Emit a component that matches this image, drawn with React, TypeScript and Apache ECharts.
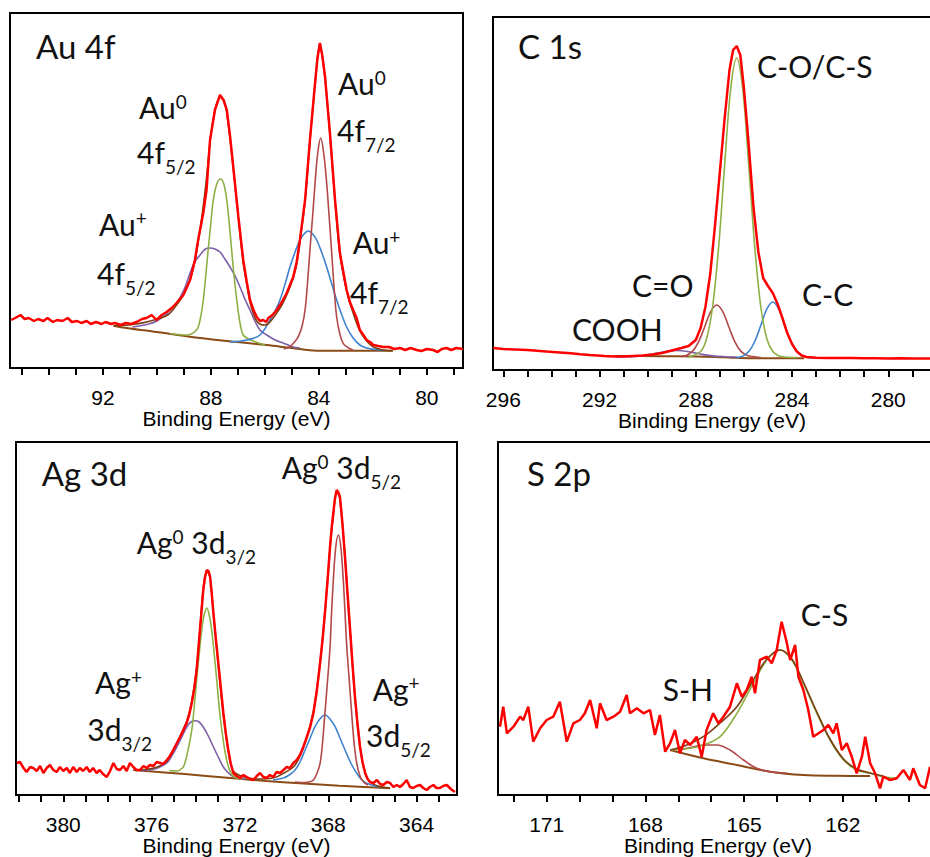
import React, { useEffect, useRef } from 'react';
import * as echarts from 'echarts';

type P = [number, number];

// ---------- Au 4f ----------
const au4fTicks = [79, 80, 81, 82, 83, 84, 85, 86, 87, 88, 89, 90, 91, 92, 93, 94, 95];
const au4fTickLabels = [80, 84, 88, 92];
const au4fData: P[] = [[95.40,48],[95.25,50],[95.05,53],[94.90,49],[94.75,50],[94.55,47],[94.40,49],[94.20,47],[94.05,50],[93.85,46],[93.70,48],[93.50,47],[93.30,50],[93.15,46],[92.95,47],[92.80,45],[92.60,47],[92.45,44],[92.25,46],[92.05,44],[91.90,46],[91.70,44],[91.55,45],[91.35,43],[91.15,45],[90.95,44],[90.75,46],[90.55,49],[90.38,50],[90.19,53],[90.01,48],[89.82,53],[89.64,56],[89.45,60],[89.27,65],[89.02,73],[88.77,88],[88.59,108],[88.47,128],[88.28,155],[88.16,178],[88.03,228],[87.85,258],[87.66,273],[87.53,268],[87.41,258],[87.29,232],[87.17,201],[86.98,151],[86.80,108],[86.67,86],[86.55,68],[86.42,58],[86.30,51],[86.18,47],[86.06,48],[85.95,46],[85.87,50],[85.72,53],[85.56,58],[85.37,66],[85.19,75],[84.95,91],[84.82,106],[84.70,128],[84.51,168],[84.33,228],[84.14,285],[84.05,310],[83.96,325],[83.87,312],[83.77,291],[83.59,235],[83.40,168],[83.22,115],[82.97,78],[82.85,66],[82.73,58],[82.60,50],[82.48,38],[82.35,33],[82.23,28],[82.10,26],[81.98,23],[81.80,22],[81.61,21],[81.40,21],[81.20,19],[80.99,20],[80.80,18],[80.60,20],[80.38,18],[80.20,17],[80.00,19],[79.77,18],[79.60,16],[79.45,19],[79.27,20],[79.10,18],[78.90,20],[78.66,19]];
const au4fBackground: P[] = [[91.61,42.3],[91.00,39.5],[90.26,37],[89.50,34],[88.40,30],[87.20,26.5],[85.93,23],[85.00,20],[84.08,17.3],[83.00,17.3],[81.26,17.3]];
const au4fAuPlus52: P[] = [[90.90,41],[90.30,44],[90.00,47],[89.64,54],[89.27,65],[89.00,78],[88.77,95],[88.60,106],[88.40,113],[88.20,119],[88.03,120],[87.85,119],[87.66,116],[87.48,109],[87.29,101],[87.10,92],[86.92,81],[86.74,69],[86.55,58],[86.37,47],[86.18,38],[85.93,33],[85.62,28],[85.32,25],[84.95,21],[84.70,20]];
const au4fAu0_52: P[] = [[89.52,34.5],[88.90,33],[88.53,38],[88.40,48],[88.28,68],[88.18,95],[88.10,118],[88.00,145],[87.91,168],[87.78,184],[87.64,189],[87.52,184],[87.41,168],[87.32,145],[87.23,118],[87.14,92],[87.04,68],[86.92,45],[86.80,33],[86.60,29],[86.43,27],[86.00,23]];
const au4fAuPlus72: P[] = [[87.29,26],[86.67,28],[86.18,33],[85.81,48],[85.62,57],[85.44,68],[85.25,84],[85.07,101],[84.88,116],[84.70,128],[84.55,134],[84.39,137],[84.23,134],[84.08,128],[83.90,116],[83.71,101],[83.52,84],[83.34,68],[83.15,53],[82.97,41],[82.73,30],[82.48,23],[82.23,20],[81.98,18.7],[81.60,17.5]];
const au4fAu0_72: P[] = [[85.30,19],[85.07,21.3],[84.90,26],[84.76,31.3],[84.62,42],[84.51,58],[84.42,85],[84.33,118],[84.23,152],[84.14,185],[84.04,215],[83.93,230],[83.82,215],[83.71,185],[83.62,152],[83.53,118],[83.44,82],[83.34,51],[83.22,34],[83.10,24.7],[82.90,20],[82.73,18]];
const au4fEnvelope: P[] = [[91.6,42],[90.9,43.5],[90.3,46.5],[89.6,53],[89.27,63],[89.0,74],[88.77,88],[88.6,106],[88.47,126],[88.3,158],[88.16,190],[88.03,226],[87.85,257],[87.66,271],[87.5,266],[87.41,256],[87.17,200],[86.98,150],[86.8,105],[86.67,84],[86.55,66],[86.42,54],[86.3,47],[86.15,43.5],[86.0,43],[85.87,44.5],[85.72,49],[85.56,55],[85.37,63],[85.19,73],[84.95,90],[84.82,104],[84.7,127],[84.51,167],[84.33,227],[84.14,284],[84.04,312],[83.96,324],[83.87,311],[83.77,290],[83.59,234],[83.4,167],[83.22,114],[82.97,77],[82.73,55],[82.48,37],[82.23,27],[81.98,21],[81.6,18],[81.26,17.3]];

// ---------- C 1s ----------
const c1sTicks = [279, 280, 281, 282, 283, 284, 285, 286, 287, 288, 289, 290, 291, 292, 293, 294, 295, 296];
const c1sTickLabels = [280, 284, 288, 292, 296];
const c1sData: P[] = [[296.42,22],[296.0,21],[295.5,20.5],[295.0,20],[294.6,19.3],[294.2,18.5],[293.8,17.8],[293.2,16.7],[292.8,15.8],[292.4,15],[291.8,14],[291.4,13.6],[291.0,13.5],[290.6,14],[290.2,14.5],[289.8,15.5],[289.4,17],[289.0,19.5],[288.6,22],[288.3,24],[288.0,30],[287.8,42],[287.6,63],[287.4,96],[287.2,145],[287.0,198],[286.8,252],[286.6,300],[286.45,320],[286.3,324],[286.15,315],[286.0,282],[285.8,225],[285.6,162],[285.4,118],[285.2,92],[285.0,84],[284.8,77],[284.6,66],[284.4,52],[284.2,37],[284.0,26],[283.8,18.5],[283.6,14.5],[283.4,13],[283.0,12.3],[282.5,12],[282.0,12],[281.5,12],[281.0,11.7],[280.5,11.8],[280.0,11.5],[279.5,11.8],[279.0,11.4],[278.5,11.6],[278.14,11.5]];
const c1sCOCS: P[] = [[288.30,13],[287.80,18.5],[287.55,31.5],[287.30,63.5],[287.05,123],[286.80,205],[286.55,281],[286.30,312],[286.05,281],[285.80,205],[285.55,123],[285.30,63.5],[285.05,31.5],[284.80,18.5],[284.55,14.3],[284.30,13],[283.80,12.5]];
const c1sCdO: P[] = [[288.60,13.3],[288.38,14.8],[288.13,18.9],[287.88,28.4],[287.63,43.2],[287.38,58.4],[287.13,65],[286.88,58.4],[286.63,43.2],[286.38,28.4],[286.13,18.9],[285.88,14.8],[285.63,13.4],[285.30,12.5]];
const c1sCC: P[] = [[286.30,12.4],[286.05,13.9],[285.80,18.4],[285.55,28.5],[285.30,44.5],[285.05,60.9],[284.80,68],[284.55,60.9],[284.30,44.5],[284.05,28.5],[283.80,18.4],[283.55,13.9],[283.30,12.4],[283.00,12]];
const c1sCOOH: P[] = [[291.30,13],[290.80,13.3],[290.30,14.1],[289.80,16],[289.30,18.3],[288.79,19.5],[288.30,18.3],[287.80,16],[287.30,14.1],[286.80,13.3],[286.30,13]];
const c1sBackground: P[] = [[291.40,14],[289.50,13.8],[288.00,13.4],[287.20,13],[286.50,12.3],[285.80,11.8],[284.50,11.7],[283.50,11.7]];

// ---------- Ag 3d ----------
const ag3dTicks = [363, 364, 365, 366, 367, 368, 369, 370, 371, 372, 373, 374, 375, 376, 377, 378, 379, 380, 381, 382];
const ag3dTickLabels = [364, 368, 372, 376, 380];
const ag3dData: P[] = [[382.11,32],[381.96,33],[381.80,27],[381.66,23],[381.50,28],[381.36,27],[381.20,24],[381.05,29],[380.90,22],[380.75,27],[380.60,30],[380.45,25],[380.30,23],[380.15,28],[380.00,24],[379.84,27],[379.70,22],[379.55,28],[379.39,23],[379.25,27],[379.10,24],[378.94,28],[378.80,23],[378.65,27],[378.49,22],[378.35,25],[378.20,21],[378.03,18],[377.88,24],[377.73,32],[377.58,26],[377.43,25],[377.28,29],[377.13,24],[376.98,32],[376.83,28],[376.68,25],[376.52,25],[376.37,29],[376.22,27],[376.07,30],[375.92,29],[375.77,33],[375.62,32],[375.47,31],[375.31,35],[375.20,38],[375.09,42],[374.90,50],[374.71,58],[374.56,65],[374.41,72],[374.30,80],[374.18,92],[374.07,106],[373.96,125],[373.81,165],[373.66,205],[373.58,218],[373.50,225],[373.42,224],[373.35,218],[373.28,202],[373.20,182],[373.09,156],[372.98,132],[372.86,106],[372.75,82],[372.64,62],[372.53,45],[372.41,31],[372.30,22],[372.15,19],[371.99,17],[371.84,20],[371.69,18],[371.54,16],[371.39,15],[371.24,19],[371.09,22],[370.94,18],[370.79,17],[370.64,20],[370.49,18],[370.34,23],[370.18,22],[370.03,25],[369.88,28],[369.73,27],[369.58,32],[369.43,35],[369.28,40],[369.13,48],[368.97,58],[368.82,68],[368.67,82],[368.52,104],[368.37,132],[368.26,155],[368.15,182],[368.03,215],[367.92,248],[367.85,266],[367.77,282],[367.70,296],[367.62,305],[367.55,303],[367.47,298],[367.36,272],[367.24,238],[367.13,202],[367.01,165],[366.90,130],[366.79,98],[366.67,70],[366.56,48],[366.45,33],[366.33,22],[366.22,16],[366.11,13],[365.95,12],[365.80,15],[365.65,11],[365.51,10],[365.35,13],[365.20,12],[365.05,8],[364.90,10],[364.75,8],[364.60,11],[364.45,15],[364.30,8],[364.15,7],[364.00,9],[363.84,10],[363.70,7],[363.54,5],[363.40,8],[363.24,10],[363.10,7],[362.94,7],[362.80,9],[362.63,10],[362.45,6],[362.26,3]];
const ag3dAg0_32: P[] = [[375.20,24.5],[374.86,24],[374.60,27],[374.49,32],[374.35,45],[374.18,65],[374.07,88],[373.96,115],[373.85,140],[373.73,165],[373.62,180],[373.50,187],[373.39,180],[373.28,165],[373.16,140],[373.05,115],[372.94,88],[372.82,65],[372.68,44],[372.52,28],[372.35,20],[372.15,17],[371.90,16]];
const ag3dAgPlus32: P[] = [[376.52,24.3],[375.92,25.7],[375.62,28],[375.31,32],[375.09,39],[374.86,48],[374.63,58],[374.41,68],[374.22,73],[374.03,74.3],[373.85,73],[373.66,68],[373.43,59],[373.20,48],[372.98,38],[372.75,28],[372.52,22],[372.30,18.3],[371.77,16]];
const ag3dAg0_52: P[] = [[369.50,13],[369.05,12.5],[368.80,13.5],[368.67,15],[368.52,21],[368.37,31.7],[368.26,52],[368.15,82],[368.03,115],[367.92,148],[367.85,182],[367.77,215],[367.66,248],[367.54,260],[367.43,248],[367.32,215],[367.24,182],[367.16,148],[367.05,115],[366.94,82],[366.83,52],[366.71,31.7],[366.56,19],[366.41,13.3],[366.20,10]];
const ag3dAgPlus52: P[] = [[370.50,15],[370.03,17],[369.77,20],[369.50,25],[369.28,33],[369.05,45],[368.82,57],[368.60,68.3],[368.38,76],[368.15,80],[367.92,76],[367.69,68.3],[367.47,57],[367.24,45],[366.98,32],[366.71,21.7],[366.48,15],[366.26,11.7],[365.75,8]];
const ag3dBackground: P[] = [[376.83,25],[374.50,21],[372.30,16.7],[370.80,14],[369.28,11.7],[367.50,9.2],[365.20,6.7]];
const ag3dEnvelope: P[] = [[376.8,25],[375.9,27],[375.3,34],[374.86,52],[374.41,74],[374.18,94],[373.96,127],[373.81,166],[373.66,206],[373.5,224],[373.35,217],[373.2,181],[372.98,131],[372.75,80],[372.53,45],[372.3,24],[371.8,18],[371.2,16],[370.5,17],[370.0,22],[369.5,30],[369.05,52],[368.67,84],[368.37,132],[368.15,182],[367.92,247],[367.77,280],[367.62,303],[367.47,296],[367.24,236],[367.01,164],[366.79,98],[366.56,48],[366.33,22],[366.1,13],[365.75,9],[365.2,7]];

// ---------- S 2p ----------
const s2pTicks = [160, 161, 162, 163, 164, 165, 166, 167, 168, 169, 170, 171, 172];
const s2pTickLabels = [162, 165, 168, 171];
const s2pData: P[] = [[172.42,68.3],[172.32,88.3],[172.21,61.7],[172.01,68.3],[171.81,78.3],[171.71,75],[171.56,88.3],[171.41,53.3],[171.20,66.7],[171.00,75],[170.80,78.3],[170.60,93.3],[170.39,53.3],[170.19,71.7],[169.99,75],[169.84,81.7],[169.68,95],[169.48,66.7],[169.38,91.7],[169.18,75],[168.97,78.3],[168.77,83.3],[168.57,100],[168.47,81.7],[168.26,86.7],[168.06,81.7],[167.86,85],[167.71,60],[167.56,80],[167.40,43.3],[167.25,51.7],[167.10,65],[166.95,41.7],[166.80,55],[166.64,50],[166.44,58.3],[166.29,38.3],[166.14,65],[165.94,81.7],[165.78,71.7],[165.63,78.3],[165.43,88.3],[165.22,111.7],[165.07,98.3],[164.92,105],[164.77,118.3],[164.67,101.7],[164.52,135],[164.31,138.3],[164.16,131.7],[164.01,145],[163.86,173.3],[163.70,151.7],[163.60,135],[163.45,150],[163.35,118.3],[163.20,105],[163.05,85],[162.90,58.3],[162.74,61.7],[162.59,65],[162.44,70],[162.29,61.7],[162.19,71.7],[162.03,45],[161.88,51.7],[161.73,38.3],[161.58,21.7],[161.42,38.3],[161.32,58.3],[161.17,31.7],[161.02,21.7],[160.87,6.7],[160.77,18.3],[160.56,15],[160.36,16.7],[160.16,25],[159.96,15],[159.86,26.7],[159.66,10],[159.50,6.7],[159.35,28.3]];
const s2pCS: P[] = [[167.25,45],[166.64,46.7],[166.24,50],[165.73,58.3],[165.22,81.7],[164.72,111.7],[164.31,135],[163.91,145],[163.55,135],[163.20,111.7],[162.79,81.7],[162.39,55],[161.98,35],[161.58,25],[161.17,21.7],[160.77,18.3],[160.36,16.7]];
const s2pSH: P[] = [[167.25,45],[166.74,46.7],[166.24,50],[165.83,50],[165.43,45],[165.02,35],[164.62,26.7],[164.21,23.3],[163.70,21.7]];
const s2pBackground: P[] = [[167.25,45],[166.24,36.7],[165.22,30],[164.21,23.3],[163.20,20],[162.20,19.2],[161.17,19]];
const s2pEnvelope: P[] = [[167.25,45],[166.74,50],[166.24,58.3],[165.73,72],[165.22,88.3],[164.81,110],[164.41,131.7],[164.15,141],[163.91,145],[163.55,136],[163.20,113],[162.79,83],[162.39,56],[161.98,36],[161.58,26],[161.17,22],[160.77,19]];

const AXIS_TITLE = 'Binding Energy (eV)';

// ---------- styles ----------
const RED = '#ff0000';
const GREEN = '#8db045';
const PURPLE = '#7d5fa8';
const BLUE = '#3f82cf';
const DARKRED = '#b24848';
const BROWN = '#8a4b16';
const ENVELOPE = '#7a3e12';
const TICK_FONT = '"Liberation Sans", Arial, sans-serif';
const LABEL_FONT = 'Lato, "Open Sans", sans-serif';

type Curve = { data: P[]; color: string; width: number; smooth: boolean };

const panels = [
  {
    grid: { left: 10, top: 13, width: 453, height: 355 }, titleX: 236.5,
    xMin: 78.66, xMax: 95.44, yMax: 355, ticks: au4fTicks, tickLabels: au4fTickLabels,
    curves: [
      { data: au4fBackground, color: BROWN, width: 2, smooth: true },
      { data: au4fAuPlus52, color: PURPLE, width: 1.6, smooth: true },
      { data: au4fAu0_52, color: GREEN, width: 1.6, smooth: true },
      { data: au4fAuPlus72, color: BLUE, width: 1.6, smooth: true },
      { data: au4fAu0_72, color: DARKRED, width: 1.6, smooth: true },
      { data: au4fEnvelope, color: ENVELOPE, width: 1.6, smooth: true },
      { data: au4fData, color: RED, width: 2.5, smooth: false },
    ] as Curve[],
  },
  {
    grid: { left: 493, top: 17, width: 440, height: 353 }, titleX: 712,
    xMin: 278.14, xMax: 296.43, yMax: 353, ticks: c1sTicks, tickLabels: c1sTickLabels,
    curves: [
      { data: c1sBackground, color: BROWN, width: 2, smooth: true },
      { data: c1sCOOH, color: PURPLE, width: 1.6, smooth: true },
      { data: c1sCdO, color: DARKRED, width: 1.6, smooth: true },
      { data: c1sCC, color: BLUE, width: 1.6, smooth: true },
      { data: c1sCOCS, color: GREEN, width: 1.6, smooth: true },
      { data: c1sData, color: RED, width: 2.5, smooth: false },
    ] as Curve[],
  },
  {
    grid: { left: 16, top: 442, width: 441, height: 353 }, titleX: 236.5,
    xMin: 362.17, xMax: 382.14, yMax: 353, ticks: ag3dTicks, tickLabels: ag3dTickLabels,
    curves: [
      { data: ag3dBackground, color: BROWN, width: 2, smooth: true },
      { data: ag3dAgPlus32, color: PURPLE, width: 1.6, smooth: true },
      { data: ag3dAg0_32, color: GREEN, width: 1.6, smooth: true },
      { data: ag3dAgPlus52, color: BLUE, width: 1.6, smooth: true },
      { data: ag3dAg0_52, color: DARKRED, width: 1.6, smooth: true },
      { data: ag3dEnvelope, color: ENVELOPE, width: 1.6, smooth: true },
      { data: ag3dData, color: RED, width: 2.5, smooth: false },
    ] as Curve[],
  },
  {
    grid: { left: 498, top: 442, width: 435, height: 353 }, titleX: 718,
    xMin: 159.26, xMax: 172.48, yMax: 353, ticks: s2pTicks, tickLabels: s2pTickLabels,
    curves: [
      { data: s2pBackground, color: BROWN, width: 2, smooth: true },
      { data: s2pSH, color: DARKRED, width: 1.6, smooth: true },
      { data: s2pCS, color: GREEN, width: 1.6, smooth: true },
      { data: s2pEnvelope, color: ENVELOPE, width: 1.6, smooth: true },
      { data: s2pData, color: RED, width: 2.5, smooth: false },
    ] as Curve[],
  },
];

const INK = '#111';
const rich = {
  t: { fontSize: 33, fontFamily: LABEL_FONT, lineHeight: 40, fill: INK },
  m: { fontSize: 30, fontFamily: LABEL_FONT, lineHeight: 40, fill: INK },
  sup: { fontSize: 19, fontFamily: LABEL_FONT, lineHeight: 40, fill: INK, padding: [0, 0, 12, 0] },
  sub: { fontSize: 19, fontFamily: LABEL_FONT, lineHeight: 40, fill: INK, padding: [29, 0, 0, 0] },
};

// annotation: [left x, baseline y, rich text, is panel title]
const annotations: [number, number, string, boolean][] = [
  [36, 56.7, '{t|Au 4f}', true],
  [139, 116.7, '{m|Au}{sup|0}', false],
  [137, 161.7, '{m|4f}{sub|5/2}', false],
  [338, 93, '{m|Au}{sup|0}', false],
  [337, 140, '{m|4f}{sub|7/2}', false],
  [99, 233.3, '{m|Au}{sup|+}', false],
  [97, 283, '{m|4f}{sub|5/2}', false],
  [352.7, 251.7, '{m|Au}{sup|+}', false],
  [350, 301.7, '{m|4f}{sub|7/2}', false],
  [518, 56.7, '{t|C 1s}', true],
  [757, 76, '{m|C-O/C-S}', false],
  [632, 295, '{m|C=O}', false],
  [572, 338.3, '{m|COOH}', false],
  [802, 304, '{m|C-C}', false],
  [41.7, 483.3, '{t|Ag 3d}', true],
  [281.7, 476.7, '{m|Ag}{sup|0}{m| 3d}{sub|5/2}', false],
  [136.7, 551.7, '{m|Ag}{sup|0}{m| 3d}{sub|3/2}', false],
  [95, 691.7, '{m|Ag}{sup|+}', false],
  [87.3, 738.3, '{m|3d}{sub|3/2}', false],
  [372.7, 698.3, '{m|Ag}{sup|+}', false],
  [366, 745, '{m|3d}{sub|5/2}', false],
  [527, 483.3, '{t|S 2p}', true],
  [800.7, 623.3, '{m|C-S}', false],
  [662.7, 698.3, '{m|S-H}', false],
];

function buildOption() {
  const grid = panels.map((p) => ({ ...p.grid, show: true, borderColor: '#000', borderWidth: 2, containLabel: false, outerBoundsMode: 'none' }));
  const xAxis = panels.map((p, i) => ({
    type: 'value', gridIndex: i, inverse: true, min: p.xMin, max: p.xMax, position: 'bottom',
    axisLine: { show: true, onZero: false, lineStyle: { color: '#000', width: 2 } },
    axisTick: { show: true, length: 7, lineStyle: { color: '#000', width: 2 }, customValues: p.ticks },
    axisLabel: { show: false },
    splitLine: { show: false },
  }));
  const yAxis = panels.map((p, i) => ({ type: 'value', gridIndex: i, min: 0, max: p.yMax, show: false, splitLine: { show: false } }));
  const series: any[] = [];
  panels.forEach((p, i) => {
    p.curves.forEach((c) => {
      series.push({ type: 'line', xAxisIndex: i, yAxisIndex: i, data: c.data, showSymbol: false, symbol: 'none', smooth: c.smooth ? 0.35 : false,
        lineStyle: { color: c.color, width: c.width }, itemStyle: { color: c.color }, silent: true, clip: true });
    });
  });
  return { animation: false, grid, xAxis, yAxis, series };
}

function buildGraphics(chart: echarts.ECharts) {
  const elements: any[] = annotations.map(([x, b, text, title]) => ({
    type: 'text', x, y: b - (title ? 10.6 : 9.7), z: 100, silent: true,
    style: { text, rich, align: 'left', verticalAlign: 'middle', fill: INK, fontFamily: LABEL_FONT, fontSize: title ? 33 : 30 },
  }));
  panels.forEach((p, i) => {
    const bottom = p.grid.top + p.grid.height;
    // numbered tick labels, placed through the axis scale
    p.tickLabels.forEach((v) => {
      const px = chart.convertToPixel({ xAxisIndex: i } as any, v) as unknown as number;
      elements.push({
        type: 'text', x: px, y: bottom + 19, z: 100, silent: true,
        style: { text: String(v), align: 'center', verticalAlign: 'top', fill: '#000', fontFamily: TICK_FONT, fontSize: 21 },
      });
    });
    elements.push({
      type: 'text', x: p.titleX, y: bottom + 50.5, z: 100, silent: true,
      style: { text: AXIS_TITLE, align: 'center', verticalAlign: 'middle', fill: '#000', fontFamily: TICK_FONT, fontSize: 21 },
    });
  });
  return elements;
}

export default function App() {
  const ref = useRef<HTMLDivElement>(null);
  useEffect(() => {
    if (!ref.current) return;
    const chart = echarts.init(ref.current, undefined, { renderer: 'svg' });
    chart.setOption(buildOption() as any);
    chart.setOption({ graphic: { elements: buildGraphics(chart) } } as any);
    return () => chart.dispose();
  }, []);
  return <div ref={ref} style={{ position: 'fixed', left: 0, top: 0, width: 930, height: 857, background: '#fff' }} />;
}
